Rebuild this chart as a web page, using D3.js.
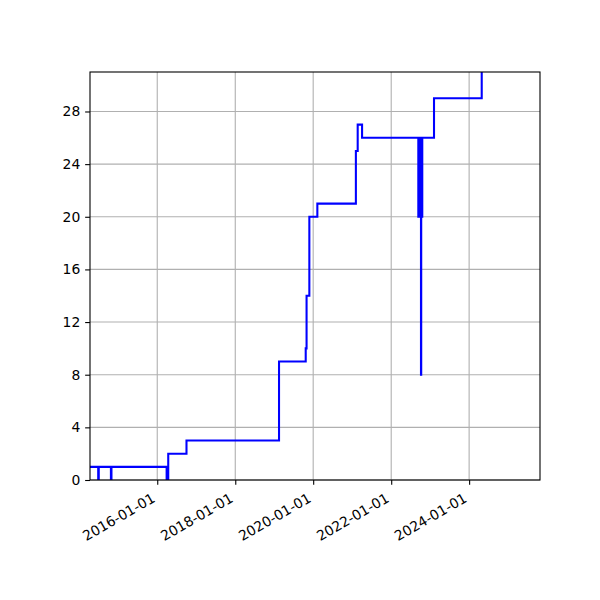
<!DOCTYPE html>
<html><head><meta charset="utf-8">
<script src="https://cdn.jsdelivr.net/npm/d3@7"></script>
<style>body{margin:0;background:#fff}svg,svg text{font-family:"DejaVu Sans",sans-serif}</style>
</head><body><svg id="c" width="600" height="600"></svg>
<script>
const dates = ["2014-04-11","2014-06-27","2014-07-02","2014-10-24","2014-10-29","2016-03-29","2016-04-13","2016-10-01","2019-02-15","2019-10-23","2019-10-31","2019-11-26","2020-02-09","2021-02-04","2021-02-21","2021-04-03","2022-09-12","2022-09-15","2022-09-18","2022-09-21","2022-09-24","2022-09-27","2022-09-30","2022-10-03","2022-10-07","2022-10-09","2022-10-12","2022-10-15","2022-10-17","2022-10-19","2023-02-06","2024-04-28","2025-10-26"];
const values = [1,0,1,0,1,0,2,3,9,10,14,20,21,25,27,26,20,26,20,26,20,26,20,26,8,26,20,26,20,26,29,33,33];
const yTicks = [0,4,8,12,16,20,24,28];
const xTicks = ["2016-01-01","2018-01-01","2020-01-01","2022-01-01","2024-01-01"];
const xDomain = ["2014-04-11","2025-10-26"];
const yDomain = [0,31];

const parse = d3.utcParse("%Y-%m-%d");
const data = dates.map((d,i)=>({t:parse(d),v:values[i]}));
const L=90,R=540,T=72,B=480;
const x = d3.scaleUtc().domain(xDomain.map(parse)).range([L,R]);
const y = d3.scaleLinear().domain(yDomain).range([B,T]);
const svg = d3.select("#c");
svg.append("rect").attr("width",600).attr("height",600).attr("fill","#fff");
svg.append("defs").append("clipPath").attr("id","clip").append("rect")
  .attr("x",L).attr("y",T).attr("width",R-L).attr("height",B-T);

// grid
const g = svg.append("g");
g.selectAll(".gx").data(xTicks.map(parse)).join("line")
  .attr("x1",d=>x(d)).attr("x2",d=>x(d)).attr("y1",T).attr("y2",B)
  .attr("stroke","#b0b0b0").attr("stroke-width",1.1);
g.selectAll(".gy").data(yTicks).join("line")
  .attr("x1",L).attr("x2",R).attr("y1",d=>y(d)).attr("y2",d=>y(d))
  .attr("stroke","#b0b0b0").attr("stroke-width",1.1);

// line
const line = d3.line().x(d=>x(d.t)).y(d=>y(d.v)).curve(d3.curveStepAfter);
svg.append("path").datum(data).attr("d",line).attr("fill","none")
  .attr("stroke","#0000ff").attr("stroke-width",2.08).attr("clip-path","url(#clip)");

// axes
const xa = svg.append("g").attr("transform",`translate(0,${B})`)
  .call(d3.axisBottom(x).tickValues(xTicks.map(parse)).tickFormat(d3.utcFormat("%Y-%m-%d")).tickSize(4.86).tickPadding(4.86).tickSizeOuter(0));
xa.attr("font-family","DejaVu Sans").attr("font-size",13.9);
xa.select(".domain").remove();
xa.selectAll("line").attr("stroke","#000").attr("stroke-width",1.1);
xa.selectAll("text").attr("fill","#000")
  .attr("text-anchor","end").attr("x",-1.6).attr("y",21).attr("dy",0)
  .attr("transform","rotate(-30,-1.6,21)");

const ya = svg.append("g").attr("transform",`translate(${L},0)`)
  .call(d3.axisLeft(y).tickValues(yTicks).tickFormat(d3.format("d")).tickSize(4.86).tickPadding(4.86).tickSizeOuter(0));
ya.attr("font-family","DejaVu Sans").attr("font-size",13.9);
ya.select(".domain").remove();
ya.selectAll("line").attr("stroke","#000").attr("stroke-width",1.1);
ya.selectAll("text").attr("fill","#000");

svg.append("rect").attr("x",L).attr("y",T).attr("width",R-L).attr("height",B-T)
  .attr("fill","none").attr("stroke","#000").attr("stroke-width",1.1);
</script></body></html>
